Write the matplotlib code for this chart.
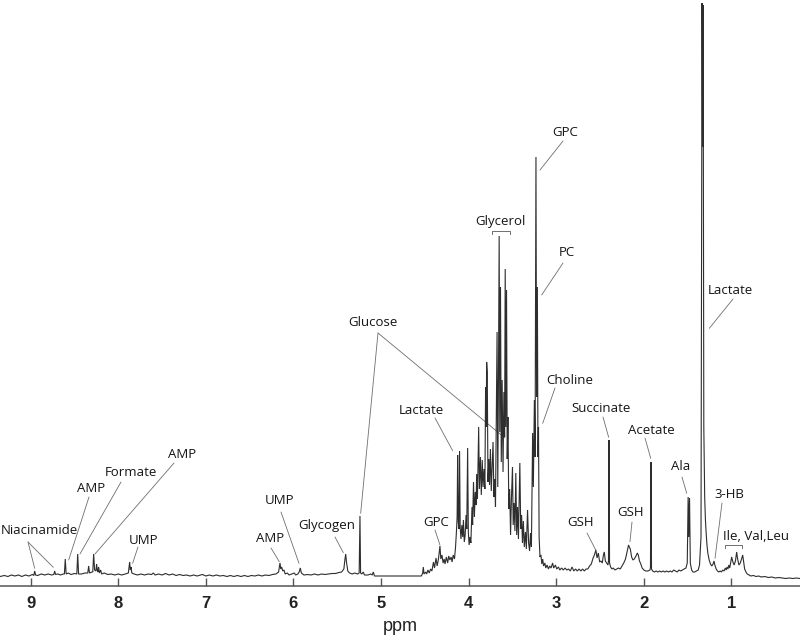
import numpy as np
import matplotlib.pyplot as plt

# ---- spectrum trace (ppm, intensity in a.u.) ----
aromatic_ppm = [9.35, 9.30, 9.26, 9.22, 9.18, 9.14, 9.10, 9.06, 9.02, 8.98, 8.964, 8.954, 8.944,
                8.92, 8.88, 8.84, 8.80, 8.76, 8.736, 8.726, 8.716, 8.69, 8.66, 8.63, 8.615, 8.605,
                8.595, 8.57, 8.54, 8.50, 8.473, 8.463, 8.453, 8.42, 8.38, 8.348, 8.338, 8.328,
                8.30, 8.291, 8.281, 8.27, 8.255, 8.247, 8.238, 8.231, 8.224, 8.215, 8.201, 8.19,
                8.16, 8.12, 8.08, 8.04, 8.00, 7.96, 7.92, 7.885, 7.870, 7.862, 7.855, 7.845, 7.82,
                7.78, 7.74, 7.70, 7.66, 7.62, 7.60, 7.58, 7.54, 7.50, 7.46, 7.42, 7.38, 7.34, 7.30,
                7.26, 7.22, 7.18, 7.14, 7.10, 7.04, 7.00, 6.96, 6.92, 6.88, 6.84, 6.80, 6.76, 6.72,
                6.68, 6.64, 6.60, 6.56, 6.52, 6.48, 6.44, 6.40, 6.36, 6.32, 6.28, 6.24, 6.20, 6.17,
                6.154, 6.145, 6.135, 6.122, 6.108, 6.095, 6.07, 6.05, 6.02, 5.99, 5.975, 5.95,
                5.935, 5.922, 5.91, 5.88, 5.84, 5.80, 5.76, 5.72, 5.68, 5.64, 5.60, 5.56, 5.52,
                5.48, 5.45, 5.425, 5.412, 5.404, 5.395, 5.38, 5.36, 5.33, 5.30, 5.27, 5.25, 5.241,
                5.234, 5.22, 5.203, 5.19, 5.15, 5.12, 5.10, 5.089, 5.075, 5.06]
aromatic_int = [0.5, 1.5, 0.5, 2, 1, 2, 0.5, 2, 1, 2.5, 1.5, 6, 2,
                1.5, 3, 2, 3, 2, 2.5, 6, 2.5, 3, 2, 3, 3, 18,
                3, 4, 2.5, 3.5, 3, 23, 3, 3, 4, 4, 11, 4,
                5, 5, 23, 7, 6, 13, 6, 5, 10, 4, 7, 3,
                4, 2.5, 3, 2, 3, 2, 3, 4, 15, 7, 10, 4, 3,
                2, 3, 2, 3, 2.5, 4, 2, 3, 2, 3.5, 2, 3, 1.5, 2.5,
                1.5, 2, 1, 2, 1, 2.5, 1, 2, 1, 2, 1, 1.5, 0.5, 1.5,
                0.5, 1.5, 0.5, 1.5, 0.5, 1.5, 1, 2, 1, 2, 1.5, 2.5, 3, 5,
                14, 8, 10, 6, 7, 3, 4, 2, 3, 4, 2, 3,
                5, 9, 4, 2, 2.5, 2, 3, 2, 3, 2.5, 3, 3.5, 3.5,
                4.5, 5, 8, 18, 23, 15, 6, 4, 3, 4, 3, 4, 61,
                4, 3, 5, 2, 2, 3, 2, 5, 1, 1]

water_ppm = [4.54]
water_int = [1]

sugar_ppm = [4.525, 4.518, 4.51, 4.49, 4.48, 4.465, 4.45, 4.435, 4.42, 4.41, 4.402, 4.39, 4.373,
             4.36, 4.345, 4.328, 4.318, 4.305, 4.292, 4.28, 4.27, 4.255, 4.24, 4.228, 4.215,
             4.2, 4.19, 4.176, 4.162, 4.15, 4.14, 4.132, 4.126, 4.119, 4.112, 4.104, 4.097,
             4.088, 4.078, 4.068, 4.06, 4.05, 4.04, 4.03, 4.022, 4.012, 4.004, 3.995, 3.985,
             3.975, 3.962, 3.955, 3.945, 3.935, 3.925, 3.915, 3.909, 3.90, 3.886, 3.878, 3.866,
             3.856, 3.845, 3.836, 3.825, 3.815, 3.807, 3.80, 3.795, 3.788, 3.78, 3.77, 3.762,
             3.752, 3.742, 3.732, 3.722, 3.712, 3.703, 3.694, 3.684, 3.676, 3.668, 3.66, 3.652,
             3.645, 3.637, 3.628, 3.618, 3.608, 3.598, 3.59, 3.583, 3.576, 3.568, 3.56, 3.552,
             3.542, 3.532, 3.522, 3.512, 3.5, 3.492, 3.482, 3.472, 3.462, 3.452, 3.442, 3.432,
             3.416, 3.406, 3.396, 3.386, 3.376, 3.365, 3.352, 3.342, 3.328, 3.316, 3.305, 3.294,
             3.284, 3.27, 3.262, 3.25, 3.242, 3.232, 3.225, 3.216, 3.209, 3.203, 3.196, 3.186,
             3.175]
sugar_int = [4, 10, 3, 5, 3, 7, 4, 8, 6, 11, 15, 9, 19,
             11, 18, 31, 18, 22, 14, 18, 13, 20, 14, 21, 17,
             20, 15, 22, 18, 30, 45, 60, 122, 55, 48, 126, 50,
             38, 52, 40, 57, 35, 42, 62, 48, 129, 45, 32, 40,
             34, 70, 52, 95, 60, 85, 72, 103, 78, 150, 88, 120,
             82, 117, 90, 108, 88, 190, 150, 215, 205, 95, 118, 92,
             128, 86, 112, 135, 80, 98, 70, 170, 245, 90, 200, 341,
             145, 290, 115, 197, 105, 185, 140, 308, 150, 287, 118, 160,
             68, 88, 42, 78, 110, 52, 74, 46, 104, 42, 70, 38,
             114, 48, 62, 34, 56, 30, 45, 28, 67, 34, 26, 44,
             30, 144, 90, 177, 120, 420, 180, 290, 120, 150, 40, 20,
             22]

aliphatic_ppm = [3.165, 3.155, 3.145, 3.13, 3.12, 3.105, 3.09, 3.075, 3.06, 3.042, 3.03, 3.01,
                 2.995, 2.975, 2.96, 2.94, 2.92, 2.90, 2.88, 2.86, 2.84, 2.82, 2.80, 2.78, 2.76,
                 2.74, 2.72, 2.70, 2.68, 2.66, 2.64, 2.62, 2.60, 2.58, 2.565, 2.548, 2.535, 2.52,
                 2.505, 2.49, 2.475, 2.462, 2.452, 2.44, 2.425, 2.41, 2.404, 2.398, 2.392, 2.38,
                 2.365, 2.35, 2.33, 2.31, 2.29, 2.27, 2.25, 2.23, 2.21, 2.19, 2.175, 2.167, 2.155,
                 2.14, 2.125, 2.11, 2.09, 2.075, 2.064, 2.05, 2.035, 2.02, 2.0, 1.98, 1.955, 1.93,
                 1.925, 1.919, 1.913, 1.90, 1.88, 1.86, 1.84, 1.82, 1.80, 1.78, 1.76, 1.74, 1.72,
                 1.70, 1.68, 1.66, 1.64, 1.62, 1.60, 1.58, 1.56, 1.54, 1.52, 1.505, 1.495, 1.488,
                 1.479, 1.47, 1.455, 1.44, 1.42, 1.40, 1.38, 1.365, 1.348, 1.336, 1.330, 1.324,
                 1.316, 1.306, 1.298, 1.29, 1.28, 1.27, 1.255, 1.24, 1.225, 1.21, 1.2, 1.19, 1.175,
                 1.16, 1.145, 1.13, 1.115, 1.1, 1.085, 1.07, 1.06, 1.05, 1.04, 1.03, 1.02, 1.01,
                 0.998, 0.99, 0.98, 0.97, 0.955, 0.941, 0.93, 0.915, 0.9, 0.885, 0.872, 0.86, 0.85,
                 0.835, 0.82, 0.80, 0.78, 0.75, 0.72, 0.69, 0.66, 0.62, 0.58, 0.54, 0.50, 0.46,
                 0.42, 0.38, 0.34, 0.30, 0.26, 0.22]
aliphatic_int = [13, 18, 11, 14, 9, 12, 8, 11, 9, 14, 9, 12,
                 8, 10, 7, 9, 7, 9, 7, 8, 6, 10, 6, 8, 6,
                 8, 6, 8, 6, 8, 8, 11, 13, 19, 22, 27, 19, 24,
                 15, 16, 14, 22, 25, 16, 14, 12, 16, 137, 14, 10,
                 8, 9, 7, 8, 9, 8, 11, 14, 18, 26, 32, 30, 28,
                 20, 17, 18, 21, 24, 22, 16, 13, 9, 7, 6, 6, 7,
                 10, 115, 8, 6, 5, 6, 5, 6, 5, 6, 5, 6, 5,
                 6, 5, 7, 6, 5, 7, 6, 7, 8, 9, 14, 80, 40,
                 79, 14, 7, 5, 5, 6, 7, 12, 40, 574, 430, 572,
                 150, 80, 58, 45, 32, 24, 17, 13, 11, 13, 16, 12, 8,
                 6, 5, 6, 5, 7, 6, 9, 7, 10, 8, 12, 9, 14,
                 20, 17, 14, 12, 16, 25, 18, 12, 14, 18, 22, 14, 8,
                 5, 3, 2, 1, 1.5, 0.5, 1, 0, 0.5, -0.5, 0, -1, -0.5,
                 -1, -1.5, -1, -1.5, -1, -1.5]

tick_ppm = [9, 8, 7, 6, 5, 4, 3, 2, 1]

# ---- assignments: label, peak targets (ppm, intensity) ----
labels = ["Niacinamide", "AMP", "Formate", "AMP", "UMP", "AMP", "UMP", "Glycogen",
          "Glucose", "Lactate", "GPC", "GPC", "PC", "Choline", "GSH", "Succinate", "GSH",
          "Acetate", "Ala", "Lactate", "3-HB"]
targets = [[(8.954, 8.7), (8.742, 9.7)], [(8.566, 17)], [(8.437, 23)], [(8.266, 23)],
           [(7.836, 13.7)], [(6.162, 15.3)], [(5.937, 13.7)], [(5.431, 24.3)],
           [(5.233, 63.7), (3.586, 139)], [(4.183, 126.3)], [(4.328, 32)], [(3.186, 407)],
           [(3.167, 282)], [(3.155, 153.7)], [(2.550, 27)], [(2.402, 139.7)], [(2.159, 35.3)],
           [(1.922, 118.7)], [(1.511, 83.7)], [(1.253, 248.7)], [(1.188, 18.7)]]
# bracketed multiplets: label, ppm range
bracket_labels = ["Glycerol", "Ile, Val,Leu"]
bracket_ranges = [(3.73, 3.53), (1.07, 0.884)]

# ---- layout (image pixels, y from top) ----
text_pos = [(39, 531), (91, 489), (131, 473), (182, 455), (144, 540), (270, 538), (279, 500),
            (327, 526), (373, 322), (421, 410), (436, 523), (565, 133), (567, 253), (570, 381),
            (581, 522), (601, 409), (631, 512), (651, 430), (681, 467), (730, 291), (729, 494)]
line_start = [(28, 542), (89, 497), (121, 482), (174, 463), (138, 547), (271, 548), (281, 512),
              (335, 537), (378, 333), (435, 418), (435, 530), (563, 141), (563, 263), (555, 388),
              (587, 533), (603, 417), (632, 522), (645, 438), (682, 477), (733, 299), (722, 503)]
bracket_text = [(500.5, 222), (756, 536)]
bracket_h = [346, 32]

W, H = 800, 640
fig = plt.figure(figsize=(8, 6.4), dpi=100)
ax = fig.add_axes([0, 54 / H, 1, 1 - 54 / H])

ppm = np.array(aromatic_ppm + water_ppm + sugar_ppm + aliphatic_ppm)
inten = np.array(aromatic_int + water_int + sugar_int + aliphatic_int)
ax.plot(ppm, inten, color="#2e2e2e", lw=0.8, zorder=3, solid_joinstyle="miter")

ax.set_xlim(9.35, 0.218)
ax.set_ylim(-9, 577)

for s in ["top", "left", "right"]:
    ax.spines[s].set_visible(False)
ax.spines["bottom"].set_color("#555555")
ax.spines["bottom"].set_linewidth(1.1)
ax.set_yticks([])
ax.set_xticks(tick_ppm)
ax.set_xticklabels([str(t) for t in tick_ppm])
ax.tick_params(axis="x", direction="in", length=5.5, width=1, color="#555555",
               pad=7, labelsize=12, labelcolor="#222222")
axis_font = ["Liberation Sans", "DejaVu Sans"]
for lab in ax.get_xticklabels():
    lab.set_family(axis_font)
    lab.set_fontweight("bold")
ax.set_xlabel("ppm", fontsize=13, family=axis_font, color="#222222", labelpad=5)

font = ["Open Sans", "DejaVu Sans"]
lead = dict(arrowstyle="-", color="#6e6e6e", lw=0.6, shrinkA=0, shrinkB=0)

for lab, tgts, (tx, ty), (sx, sy) in zip(labels, targets, text_pos, line_start):
    fig.text(tx / W, 1 - ty / H, lab, ha="center", va="center", fontsize=9.5,
             family=font, color="#151515")
    for p, v in tgts:
        ax.annotate("", xy=(p, v), xycoords="data", xytext=(sx, H - sy),
                    textcoords="figure pixels", arrowprops=lead, zorder=1)

for lab, (lo, hi), (tx, ty), h in zip(bracket_labels, bracket_ranges, bracket_text, bracket_h):
    fig.text(tx / W, 1 - ty / H, lab, ha="center", va="center", fontsize=9.5,
             family=font, color="#151515")
    ax.plot([lo, lo, hi, hi], [h - 3, h, h, h - 3], color="#6e6e6e", lw=0.7, zorder=1)

fig.savefig("out.png", dpi=100)
